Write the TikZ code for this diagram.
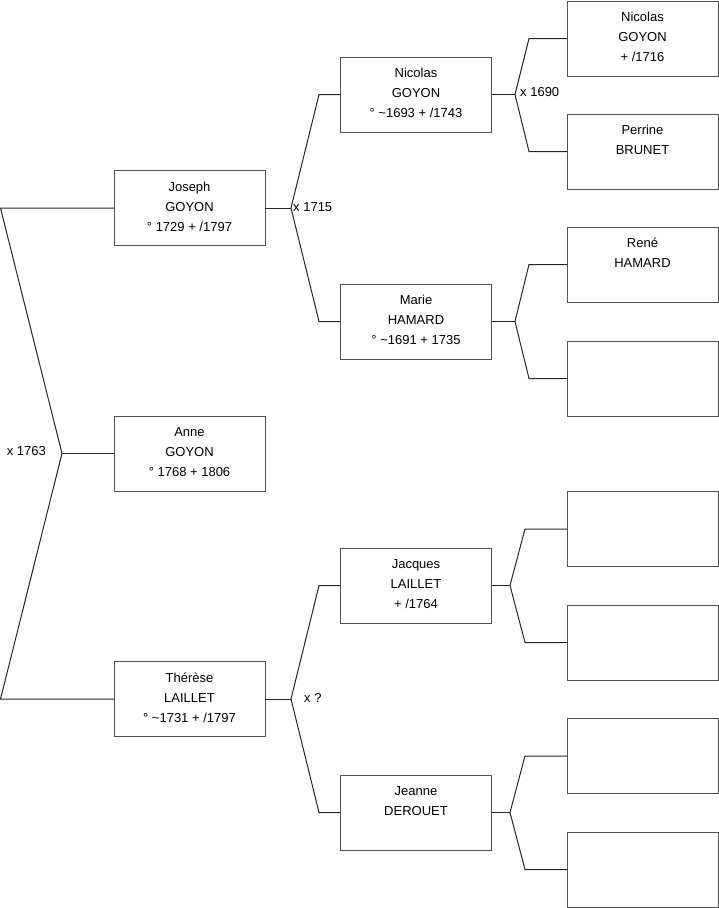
\documentclass[tikz,border=0pt]{standalone}
\usepackage{fontspec}
\setmainfont{Liberation Sans}
\begin{document}
\begin{tikzpicture}[x=1pt,y=-1pt,
  box/.style={draw=black!68,line width=1pt,minimum width=151pt,minimum height=75pt,inner sep=0pt,outer sep=0pt},
  txt/.style={anchor=north,align=center,inner sep=0pt,font=\fontsize{13}{20}\selectfont},
  lab/.style={inner sep=0pt,font=\fontsize{13}{16}\selectfont},
  conn/.style={draw=black!85,line width=1pt}]
\useasboundingbox (0,0) rectangle (719,908);
% left column
\node[box] (jo) at (189.5,208) {};
\node[box] (an) at (189.5,453.5) {};
\node[box] (th) at (189.5,699) {};
% middle column
\node[box] (ni) at (416,94.5) {};
\node[box] (ma) at (416,321.5) {};
\node[box] (ja) at (416,585.5) {};
\node[box] (je) at (416,812.5) {};
% right column
\node[box] (r1) at (642.5,38.5) {};
\node[box] (r2) at (642.5,151.5) {};
\node[box] (r3) at (642.5,264.5) {};
\node[box] (r4) at (642.5,378.5) {};
\node[box] (r5) at (642.5,529) {};
\node[box] (r6) at (642.5,642.5) {};
\node[box] (r7) at (642.5,756) {};
\node[box] (r8) at (642.5,869.5) {};
% texts
\node[txt] (jot) at ([yshift=-11pt]jo.north) {Joseph\\GOYON\\° 1729 + /1797};
\node[txt] (ant) at ([yshift=-11pt]an.north) {Anne\\GOYON\\° 1768 + 1806};
\node[txt] (tht) at ([yshift=-11pt]th.north) {Thérèse\\LAILLET\\° \textasciitilde1731 + /1797};
\node[txt] (nit) at ([yshift=-11pt]ni.north) {Nicolas\\GOYON\\° \textasciitilde1693 + /1743};
\node[txt] (mat) at ([yshift=-11pt]ma.north) {Marie\\HAMARD\\° \textasciitilde1691 + 1735};
\node[txt] (jat) at ([yshift=-11pt]ja.north) {Jacques\\LAILLET\\ + /1764};
\node[txt] (jet) at ([yshift=-11pt]je.north) {Jeanne\\DEROUET};
\node[txt] (r1t) at ([yshift=-11pt]r1.north) {Nicolas\\GOYON\\ + /1716};
\node[txt] (r2t) at ([yshift=-11pt]r2.north) {Perrine\\BRUNET};
\node[txt] (r3t) at ([yshift=-11pt]r3.north) {René\\HAMARD};
% connector coordinates
\coordinate (lt) at (0.5,208);
\coordinate (lb) at (0.5,699);
\coordinate (lv) at (62,453.5);
\coordinate (jv) at (291,208);
\coordinate (ju) at (319,94.5);
\coordinate (jd) at (319,321.5);
\coordinate (tv) at (291,699);
\coordinate (tu) at (319,585.5);
\coordinate (td) at (319,812.5);
\coordinate (nv) at (515,94.5);
\coordinate (nu) at (529,38.5);
\coordinate (nd) at (529,151.5);
\coordinate (mv) at (515,321.5);
\coordinate (mu) at (529,264.5);
\coordinate (md) at (529,378.5);
\coordinate (av) at (510,585.5);
\coordinate (au) at (525,529);
\coordinate (ad) at (525,642.5);
\coordinate (ev) at (510,812.5);
\coordinate (eu) at (525,756);
\coordinate (ed) at (525,869.5);
% connectors
\draw[conn] (jo.west) -- (lt) -- (lv) -- (lb) -- (th.west);
\draw[conn] (lv) -- (an.west);
\draw[conn] (jo.east) -- (jv);
\draw[conn] (ni.west) -- (ju) -- (jv) -- (jd) -- (ma.west);
\draw[conn] (th.east) -- (tv);
\draw[conn] (ja.west) -- (tu) -- (tv) -- (td) -- (je.west);
\draw[conn] (ni.east) -- (nv);
\draw[conn] (r1.west) -- (nu) -- (nv) -- (nd) -- (r2.west);
\draw[conn] (ma.east) -- (mv);
\draw[conn] (r3.west) -- (mu) -- (mv) -- (md) -- (r4.west);
\draw[conn] (ja.east) -- (av);
\draw[conn] (r5.west) -- (au) -- (av) -- (ad) -- (r6.west);
\draw[conn] (je.east) -- (ev);
\draw[conn] (r7.west) -- (eu) -- (ev) -- (ed) -- (r8.west);
% labels
\node[lab,anchor=east] (l1763) at (46,451.5) {x 1763};
\node[lab,anchor=west] (l1715) at (293,207) {x 1715};
\node[lab,anchor=west] (l1690) at (520,92) {x 1690};
\node[lab,anchor=west] (lq) at (304,697.5) {x ?};
\end{tikzpicture}
\end{document}
